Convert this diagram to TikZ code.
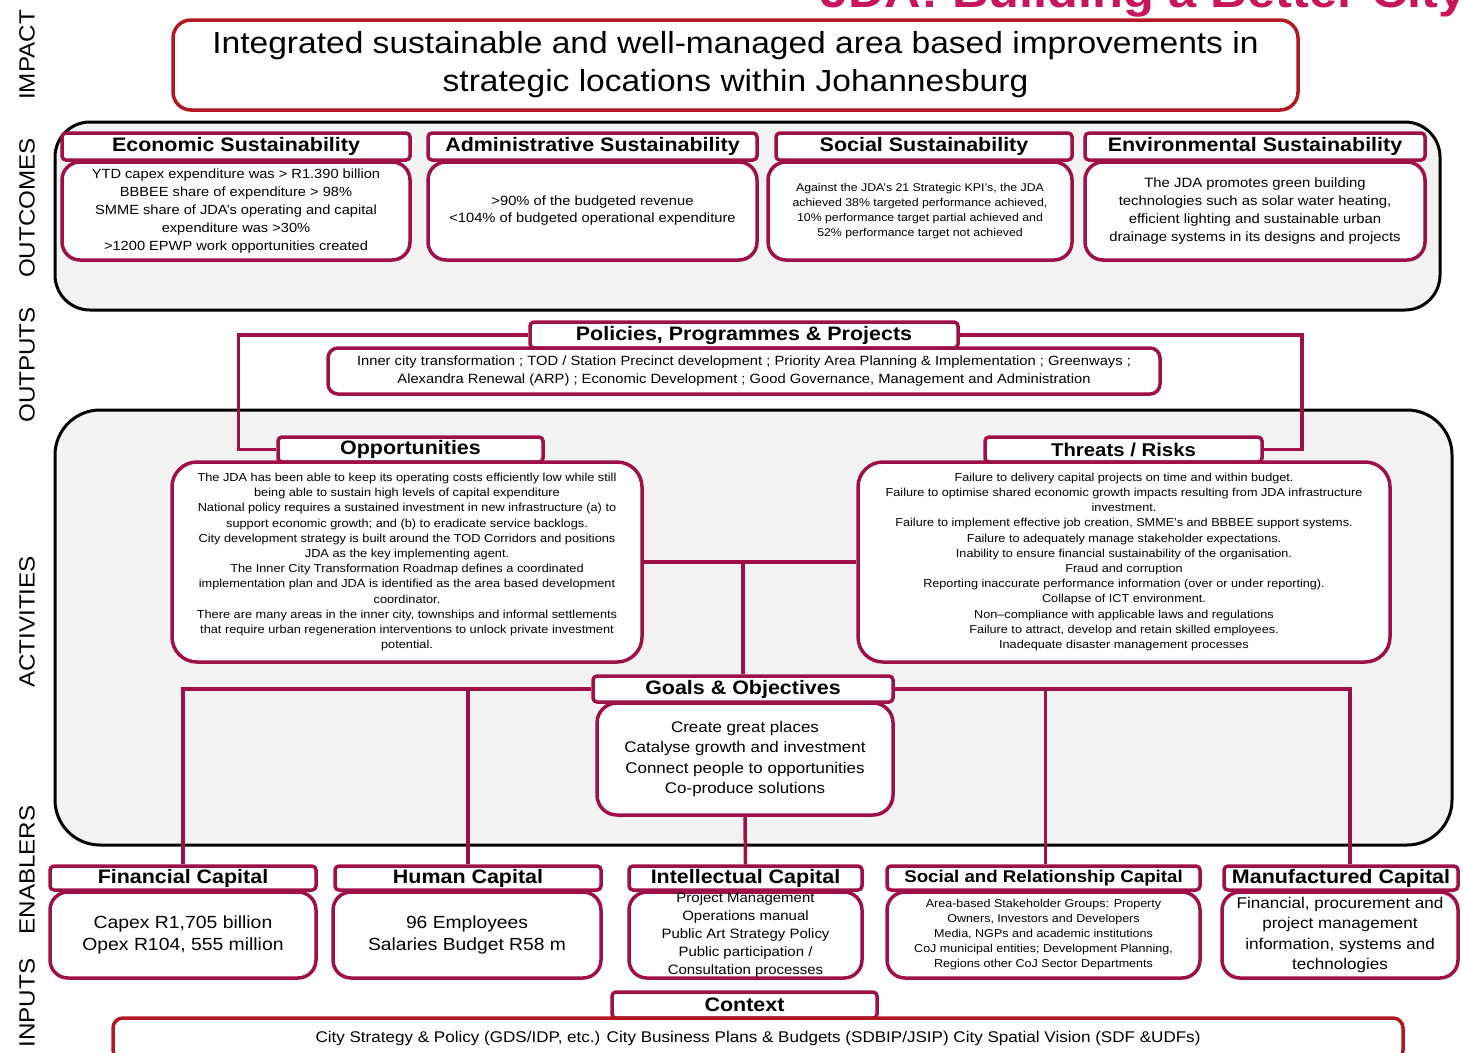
\documentclass[tikz,border=0pt]{standalone}
\usepackage{fontspec}
\setmainfont{Liberation Sans}[FakeStretch=1.1]
\usetikzlibrary{calc}
\definecolor{crim}{RGB}{160,16,72}
\definecolor{impred}{RGB}{178,24,36}
\definecolor{titlecol}{RGB}{200,22,92}
\definecolor{panel}{RGB}{242,242,242}
\newcommand{\setfs}[2]{\fontsize{#1}{#2}\selectfont}
\pgfdeclarelayer{back}
\pgfdeclarelayer{mid}
\pgfsetlayers{back,mid,main}
\tikzset{
  hdr/.style={draw=crim, line width=3.5pt, fill=white, rounded corners=4pt, inner sep=0pt, font=\bfseries\setfs{19.5}{20}},
  bodybox/.style={draw=crim, line width=3.5pt, fill=white, rounded corners=18pt, inner sep=0pt, align=center},
  bigbox/.style={draw=black, line width=3pt, fill=panel},
  conn/.style={draw=crim, line width=3.5pt},
  sidelbl/.style={rotate=90, font=\setfs{22}{24}},
}
\begin{document}
\begin{tikzpicture}[x=1pt,y=-1pt]
\useasboundingbox (0,0) rectangle (1463,1052);

% title (clipped at top)
\node[anchor=base west, inner sep=0pt, text=titlecol, font=\bfseries\setfs{46}{46}] (title) at (820,8) {JDA: Building a Better City};

% side labels
\node[sidelbl] (limpact) at (27,55) {IMPACT};
\node[sidelbl] (lout) at (27,208) {OUTCOMES};
\node[sidelbl] (loutp) at (27,365) {OUTPUTS};
\node[sidelbl] (lact) at (27,622) {ACTIVITIES};
\node[sidelbl] (lenab) at (27,870) {ENABLERS};
\node[sidelbl] (linp) at (27,1003) {INPUTS};

% big panels
\begin{pgfonlayer}{back}
\draw[bigbox, rounded corners=35pt] (55,122) rectangle (1440,310);
\draw[bigbox, rounded corners=45pt] (55,410) rectangle (1452,845);
\end{pgfonlayer}

% impact
\node[draw=impred, line width=3.5pt, fill=white, rounded corners=18pt, minimum width=1125, minimum height=90, align=center, inner sep=0pt, font=\setfs{30.5}{38}] (impact) at (735.5,65) {Integrated sustainable and well-managed  area based improvements  in\\strategic locations within Johannesburg};

% outcomes
\node[hdr, minimum width=348, minimum height=27] (ecoh) at (236,146.5) {Economic Sustainability};
\node[bodybox, minimum width=348, minimum height=98, font=\setfs{13.3}{17.8}] (ecob) at (236,211) {YTD capex expenditure was > R1.390 billion\\BBBEE share of expenditure > 98\%\\SMME  share of JDA’s operating and  capital\\expenditure was >30\%\\>1200 EPWP work opportunities created};
\node[hdr, minimum width=329, minimum height=27] (admh) at (592.5,146.5) {Administrative Sustainability};
\node[bodybox, minimum width=329, minimum height=98, font=\setfs{13.4}{17}] (admb) at (592.5,211) {>90\% of the budgeted revenue\\<104\% of budgeted operational expenditure};
\node[hdr, minimum width=296, minimum height=27] (soch) at (924,146.5) {Social Sustainability};
\node[bodybox, minimum width=304, minimum height=98, font=\setfs{11.2}{15}] (socb) at (920,211) {Against the JDA’s 21  Strategic KPI’s, the  JDA\\achieved  38\% targeted performance  achieved,\\10\% performance  target partial achieved  and\\52\% performance  target not  achieved};
\node[hdr, minimum width=340, minimum height=27] (envh) at (1255,146.5) {Environmental Sustainability};
\node[bodybox, minimum width=340, minimum height=98, font=\setfs{13.5}{17.7}] (envb) at (1255,211) {The  JDA promotes green  building\\technologies such as solar water  heating,\\efficient lighting and sustainable urban\\drainage  systems in its designs and projects};

% outputs
\node[hdr, minimum width=428, minimum height=26] (pph) at (744,335) {Policies, Programmes \& Projects};
\node[bodybox, rounded corners=10pt, minimum width=832, minimum height=46, font=\setfs{13.4}{18}] (ppb) at (744,371) {Inner city transformation ; TOD / Station Precinct development ; Priority Area Planning  \& Implementation ; Greenways ;\\Alexandra Renewal  (ARP) ; Economic Development ; Good Governance, Management  and Administration};

% activities
\node[hdr, minimum width=265, minimum height=25] (opph) at (410.5,449.5) {Opportunities};
\node[bodybox, rounded corners=25pt, minimum width=470, minimum height=200, font=\setfs{11.6}{15.2}] (oppb) at (407,562) {The JDA has been  able to keep  its operating  costs efficiently  low while  still\\being able to sustain  high levels  of capital  expenditure\\National  policy  requires a sustained  investment  in new  infrastructure  (a) to\\support  economic  growth; and  (b) to eradicate  service  backlogs.\\City development  strategy  is built around  the  TOD Corridors and  positions\\JDA as the key  implementing  agent.\\The Inner City Transformation  Roadmap  defines  a coordinated\\implementation  plan and  JDA is identified  as the  area based  development\\coordinator.\\There are many  areas in the inner city, townships  and  informal  settlements\\that require urban  regeneration  interventions  to unlock private  investment\\potential.};
\node[hdr, minimum width=277, minimum height=25, font=\bfseries\setfs{18.5}{20}] (thrh) at (1123.5,449.5) {Threats / Risks};
\node[bodybox, rounded corners=25pt, minimum width=532, minimum height=200, font=\setfs{11.5}{15.2}] (thrb) at (1124,562) {Failure to delivery  capital projects on  time and  within budget.\\Failure to optimise  shared  economic  growth  impacts resulting  from JDA infrastructure\\investment.\\Failure to implement  effective  job creation,  SMME’s and BBBEE  support  systems.\\Failure to adequately  manage  stakeholder  expectations.\\Inability  to ensure  financial  sustainability  of the organisation.\\Fraud and  corruption\\Reporting  inaccurate  performance  information  (over or under reporting).\\Collapse  of ICT environment.\\Non–compliance  with  applicable  laws  and  regulations\\Failure to attract, develop  and retain  skilled employees.\\Inadequate  disaster  management  processes};
\node[hdr, minimum width=300, minimum height=26] (goh) at (743,689) {Goals \& Objectives};
\node[bodybox, rounded corners=20pt, minimum width=296, minimum height=112, font=\setfs{15.4}{20.4}] (gob) at (745,759) {Create great places\\Catalyse growth and investment\\Connect people to opportunities\\Co-produce solutions};

% enablers
\node[hdr, minimum width=266, minimum height=24] (finh) at (183,878) {Financial Capital};
\node[bodybox, minimum width=266, minimum height=86, font=\setfs{17.6}{22}] (finb) at (183,935) {Capex R1,705 billion\\Opex R104, 555 million};
\node[hdr, minimum width=266, minimum height=24] (humh) at (468,878) {Human Capital};
\node[bodybox, minimum width=268, minimum height=86, font=\setfs{17.5}{22}] (humb) at (467,935) {96 Employees\\Salaries Budget R58 m};
\node[hdr, minimum width=233, minimum height=24] (inth) at (745.5,878) {Intellectual Capital};
\node[bodybox, minimum width=233, minimum height=86, font=\setfs{13.6}{17.8}] (intb) at (745.5,935) {Project Management\\Operations manual\\Public Art Strategy Policy\\Public participation /\\Consultation processes};
\node[hdr, minimum width=313, minimum height=24, font=\bfseries\setfs{17}{20}] (srh) at (1043.5,878) {Social and Relationship  Capital};
\node[bodybox, minimum width=313, minimum height=86, font=\setfs{11.4}{15}] (srb) at (1043.5,935) {Area-based  Stakeholder  Groups: Property\\Owners,  Investors  and Developers\\Media, NGPs and academic  institutions\\CoJ municipal  entities; Development  Planning,\\Regions other CoJ Sector Departments};
\node[hdr, minimum width=234, minimum height=24] (manh) at (1341,878) {Manufactured Capital};
\node[bodybox, minimum width=236, minimum height=86, font=\setfs{15.5}{20.3}] (manb) at (1340,935) {Financial,  procurement and\\project management\\information, systems and\\technologies};

% context
\node[hdr, minimum width=265, minimum height=26] (ctxh) at (744.5,1005) {Context};
\node[draw=impred, line width=3.5pt, fill=white, rounded corners=10pt, minimum width=1290, minimum height=42, inner sep=0pt, font=\setfs{15.5}{18}] (ctxb) at (758,1039) {\raisebox{4pt}{City Strategy \& Policy  (GDS/IDP,  etc.) City Business Plans \& Budgets (SDBIP/JSIP)  City Spatial Vision  (SDF \&UDFs)}};

% connectors
\begin{pgfonlayer}{mid}
\draw[conn] (pph.west) -- ++(-290,0) |- (opph.west);
\draw[conn] (pph.east) -- ++(342,0) |- (thrh.east);
\draw[conn] (oppb.east) -- (thrb.west);
\draw[conn] (goh.north |- oppb.east) -- (goh.north);
\draw[conn] (goh.west) -- (goh.west -| finh.north) -- (finh.north);
\draw[conn] (goh.west -| humh.north) -- (humh.north);
\draw[conn] (goh.east) -- ($(goh.east -| manh.north)+(9,0)$) -- ($(manh.north)+(9,0)$);
\draw[conn] ($(goh.east -| srh.north)+(2,0)$) -- ($(srh.north)+(2,0)$);
\draw[conn] (gob.south) -- (inth.north);
\end{pgfonlayer}
\end{tikzpicture}
\end{document}
